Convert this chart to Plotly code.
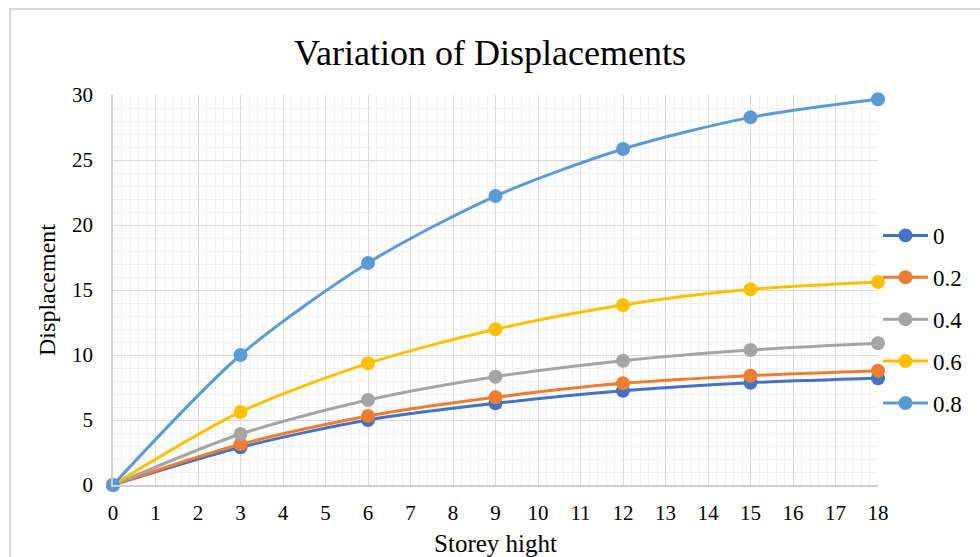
import plotly.graph_objects as go

storey = [0, 3, 6, 9, 12, 15, 18]
series_names = ["0", "0.2", "0.4", "0.6", "0.8"]
disp_0 = [0, 2.9, 5.0, 6.28, 7.25, 7.87, 8.21]
disp_02 = [0, 3.13, 5.31, 6.75, 7.82, 8.41, 8.79]
disp_04 = [0, 3.92, 6.54, 8.33, 9.56, 10.38, 10.9]
disp_06 = [0, 5.62, 9.36, 11.98, 13.85, 15.05, 15.62]
disp_08 = [0, 10.0, 17.08, 22.23, 25.85, 28.28, 29.67]
colors = ["#4472C4", "#ED7D31", "#A5A5A5", "#FFC000", "#5B9BD5"]
x_ticks = list(range(0, 19))
y_ticks = [0, 5, 10, 15, 20, 25, 30]

FONT = "Liberation Serif, Times New Roman, serif"

fig = go.Figure()
for name, vals, col in zip(series_names, [disp_0, disp_02, disp_04, disp_06, disp_08], colors):
    fig.add_trace(go.Scatter(
        x=storey, y=vals, name=name, mode="lines+markers",
        line=dict(color=col, width=3, shape="spline", smoothing=0.8),
        marker=dict(color=col, size=14),
        cliponaxis=False, legendgroup=name,
    ))

fig.update_layout(
    width=980, height=557,
    margin=dict(l=113, r=102, t=95, b=72, autoexpand=False),
    paper_bgcolor="white", plot_bgcolor="white",
    font=dict(family=FONT, color="black", size=21),
    title=dict(text="Variation of Displacements", x=0.5, xanchor="center",
               y=1 - 52 / 557, yanchor="middle", font=dict(size=36, family=FONT)),
    legend=dict(x=1.0, xanchor="left", y=0.695, yanchor="top",
                font=dict(size=23, family=FONT), tracegroupgap=9,
                bgcolor="rgba(0,0,0,0)", itemwidth=45),
    showlegend=True,
)
fig.update_xaxes(
    range=[0, 18], tickvals=x_ticks, ticktext=[str(v) for v in x_ticks],
    showgrid=True, gridcolor="#d9d9d9", gridwidth=1,
    minor=dict(dtick=0.2, showgrid=True, gridcolor="#f0f0f0", gridwidth=1),
    showline=True, linecolor="#d0d0d0", linewidth=1.5, zeroline=False,
    ticks="", ticklabelstandoff=8, automargin=False,
    title=dict(text="Storey hight", font=dict(size=25, family=FONT), standoff=12),
)
fig.update_yaxes(
    range=[0, 30], tickvals=y_ticks, ticktext=[str(v) for v in y_ticks],
    showgrid=True, gridcolor="#d9d9d9", gridwidth=1,
    minor=dict(dtick=1, showgrid=True, gridcolor="#f0f0f0", gridwidth=1),
    showline=True, linecolor="#d0d0d0", linewidth=1.5, zeroline=False,
    ticks="", ticklabelstandoff=14, automargin=False,
    title=dict(text="Displacement", font=dict(size=24, family=FONT), standoff=10),
)
# chart frame (top and left edges visible)
fig.add_shape(type="path", xref="paper", yref="paper",
              path="M 1.3 1.2205 L -0.1346 1.2205 L -0.1346 -0.3",
              line=dict(color="#d9d9d9", width=2), layer="below")

fig.write_html("out.html")
